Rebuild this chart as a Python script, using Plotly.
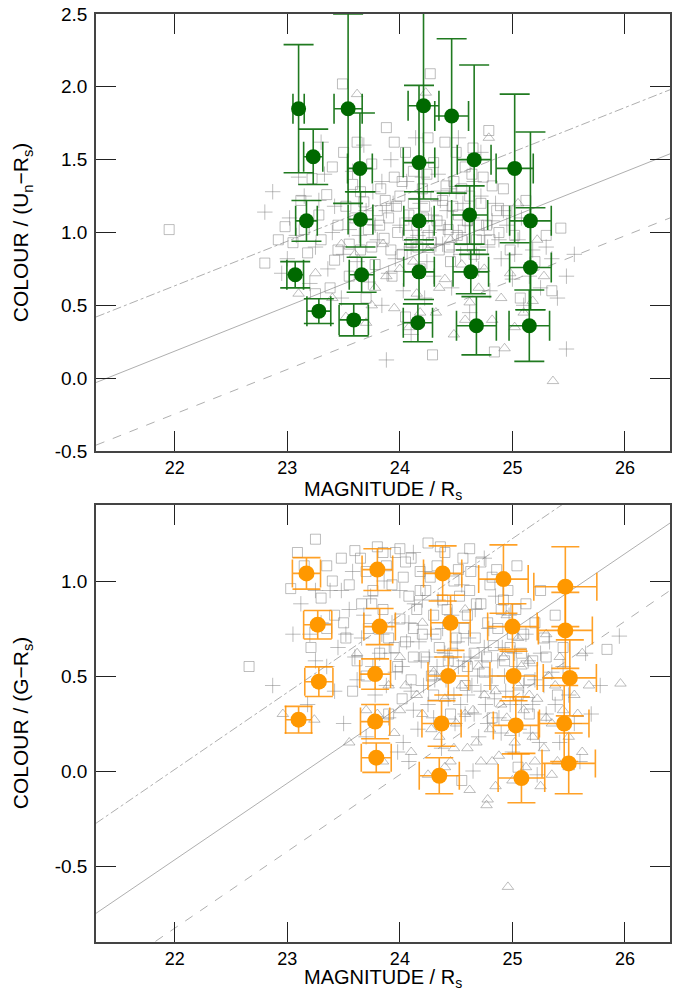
import plotly.graph_objects as go

# ---------------- data: top panel (U_n - R_s) ----------------
top_sq = [(21.95,1.02),(22.80,0.79),(22.98,1.04),(23.05,0.93),(23.12,1.22),(23.18,0.86),(23.22,1.37),(23.28,1.12),
          (23.30,0.95),(23.35,1.26),(23.40,1.45),(23.42,0.81),(23.45,1.05),(23.49,2.02),(23.50,1.55),(23.52,1.18),
          (23.55,0.92),(23.58,1.33),(23.62,1.62),(23.65,0.88),(23.68,1.21),(23.72,1.02),(23.75,1.47),(23.78,0.78),
          (23.80,1.15),(23.83,1.30),(23.86,0.96),(23.88,1.72),(23.90,1.10),(23.93,0.70),(23.95,1.38),(23.98,1.00),
          (24.00,1.25),(24.02,0.85),(24.05,1.55),(24.08,1.12),(24.10,0.93),(24.12,1.42),(24.15,1.05),(24.18,0.75),
          (24.20,1.30),(24.22,1.18),(24.25,0.98),(24.27,2.09),(24.29,0.16),(24.30,1.48),(24.33,1.08),(24.35,0.88),
          (24.38,1.22),(24.40,1.62),(24.43,1.02),(24.45,0.80),(24.48,1.35),(24.52,1.12),(24.55,0.95),(24.58,1.45),
          (24.62,1.25),(24.66,0.85),(24.70,1.05),(24.74,1.38),(24.79,1.70),(24.80,0.95),(24.84,0.18),(24.86,1.15),
          (24.92,1.30),(24.98,0.88),(25.07,0.55),(25.12,1.22),(25.30,0.98),(25.43,1.03),(23.38,0.62),(23.70,0.55),
          (24.05,0.42),(23.25,0.58),
          (23.60,1.10),(23.65,1.28),(23.75,0.90),(23.82,1.05),(23.87,1.22),(23.92,0.88),(23.97,1.18),(24.02,1.35),
          (24.07,0.98),(24.12,1.20),(24.16,0.90),(24.21,1.10),(24.24,1.40),(24.28,0.93),(24.32,1.25),(24.36,1.05),
          (24.41,1.32),(24.44,0.90),(24.47,1.18),(24.51,0.98),(24.55,1.30),(24.60,1.08),(24.64,1.40),(24.68,0.95),
          (24.72,1.20),(24.77,1.05),(24.82,1.32),(24.88,1.00),(24.95,1.15),(25.02,0.98),(25.20,0.80),(25.35,0.60),
          (23.55,0.70),(23.45,0.88),(23.15,1.02),(22.92,0.95),(24.50,1.55),(24.25,1.65),(23.95,1.62),(24.65,1.58)]
top_cr = [(22.80,1.14),(22.87,1.28),(22.95,0.72),(23.02,1.10),(23.08,0.98),(23.15,1.25),(23.20,0.65),(23.25,0.90),
          (23.33,1.40),(23.36,0.75),(23.42,1.18),(23.48,0.55),(23.55,1.02),(23.58,1.42),(23.62,0.80),(23.68,1.60),
          (23.72,0.66),(23.76,1.28),(23.80,0.95),(23.84,0.50),(23.88,1.15),(23.92,1.50),(23.96,0.82),(24.00,1.05),
          (24.03,0.60),(24.06,1.35),(24.10,0.90),(24.14,1.65),(24.18,1.20),(24.22,0.55),(24.26,1.00),(24.30,0.70),
          (24.34,1.40),(24.38,0.92),(24.42,1.15),(24.46,0.62),(24.50,1.28),(24.54,0.85),(24.58,1.05),(24.62,0.45),
          (24.66,1.35),(24.70,0.75),(24.75,0.98),(24.80,0.60),(24.85,1.20),(24.90,0.82),(24.95,1.05),(25.00,0.68),
          (25.05,0.95),(25.10,0.50),(25.18,0.88),(25.25,0.62),(25.35,0.82),(25.48,0.70),(25.48,0.20),(23.88,0.125),
          (24.52,1.65),(23.30,1.62),(24.10,0.30),(24.72,1.55),
          (23.50,0.85),(23.64,0.98),(23.70,1.15),(23.78,1.05),(23.84,1.35),(23.90,0.72),(23.94,1.20),(24.04,0.88),
          (24.08,1.10),(24.16,0.98),(24.20,1.38),(24.24,0.80),(24.28,1.12),(24.32,0.92),(24.36,1.22),(24.40,1.02),
          (24.44,1.30),(24.48,0.88),(24.52,1.00),(24.56,1.20),(24.60,0.92),(24.64,1.10),(24.68,0.85),(24.72,1.25),
          (24.78,0.90),(24.82,1.08),(24.88,0.95),(24.92,1.15),(25.02,0.85),(25.08,1.10),(25.15,0.70),(25.30,0.90),
          (25.40,0.55),(23.10,1.38),(23.00,0.82),(25.55,0.85),(23.40,1.00),(23.28,1.22)]
top_tr = [(23.25,0.72),(23.40,0.55),(23.52,0.42),(23.60,0.85),(23.70,0.38),(23.78,0.62),(23.85,0.92),(23.95,0.48),
          (24.00,0.75),(24.08,0.35),(24.15,0.58),(24.23,1.96),(24.25,0.88),(24.32,0.45),(24.40,0.68),(24.48,0.30),
          (24.55,0.78),(24.62,0.52),(24.70,0.62),(24.79,1.65),(24.82,0.40),(24.93,0.205),(24.98,0.72),(25.10,0.45),
          (25.18,0.53),(25.22,0.95),(25.36,-0.02),(23.10,0.58),(25.05,1.20),(23.62,1.95),
          (23.88,0.70),(24.12,0.80),(24.35,0.62),(24.58,0.40),(24.75,0.75),(24.90,0.55),(25.02,0.35),(25.28,0.70),
          (23.48,0.92),(24.45,0.95),(24.18,0.45),(23.75,0.50)]

green_x   = [23.10,23.23,23.54,23.645,23.65,24.21,24.17,24.46,24.66,25.02,23.17,24.17,24.62,25.16,
             23.07,23.28,23.66,23.59,24.17,24.16,24.63,24.68,25.16,25.15]
green_y   = [1.85,1.52,1.85,1.44,1.09,1.87,1.48,1.80,1.50,1.44,1.08,1.08,1.12,1.08,
             0.71,0.46,0.71,0.40,0.73,0.38,0.73,0.36,0.76,0.36]
green_eyp = [0.44,0.19,0.65,0.38,0.19,0.64,0.53,0.53,0.65,0.51,0.14,0.20,0.20,0.61,
             0.09,0.085,0.12,0.11,0.19,0.13,0.15,0.20,0.41,0.245]
green_eym = [0.44,0.19,0.65,0.16,0.19,0.64,0.53,0.53,0.65,0.51,0.14,0.20,0.20,0.61,
             0.09,0.085,0.12,0.11,0.19,0.13,0.15,0.20,0.29,0.245]
green_ex  = [0.05,0.085,0.125,0.11,0.11,0.137,0.14,0.15,0.15,0.165,0.096,0.135,0.16,0.185,
             0.074,0.106,0.11,0.13,0.136,0.13,0.158,0.177,0.185,0.18]

top_line_x = [21.3, 26.4]
top_solid = [-0.03, 1.54]
top_upper = [0.42, 1.98]
top_lower = [-0.46, 1.10]

# ---------------- data: bottom panel (G - R_s) ----------------
bot_sq = [(22.66,0.55),(23.03,0.96),(23.09,1.15),(23.21,0.65),(23.30,0.91),(23.35,1.08),(23.42,0.82),(23.48,1.12),
          (23.52,0.70),(23.55,0.98),(23.60,1.16),(23.62,0.58),(23.66,0.88),(23.70,1.05),(23.72,0.75),(23.76,0.95),
          (23.80,1.18),(23.82,0.62),(23.85,0.85),(23.88,1.08),(23.90,0.70),(23.93,0.98),(23.96,1.15),(23.98,0.55),
          (24.00,0.80),(24.03,1.02),(24.05,0.68),(24.08,0.92),(24.10,1.12),(24.12,0.60),(24.15,0.85),(24.18,1.05),
          (24.20,0.72),(24.23,0.95),(24.25,1.20),(24.28,0.50),(24.30,0.82),(24.33,1.08),(24.35,0.65),(24.38,0.90),
          (24.40,1.15),(24.43,0.58),(24.46,0.78),(24.48,1.00),(24.50,0.70),(24.53,0.92),(24.56,1.12),(24.58,0.45),
          (24.60,0.82),(24.63,1.05),(24.66,0.62),(24.68,0.88),(24.72,1.10),(24.75,0.52),(24.78,0.78),(24.80,0.98),
          (24.83,0.66),(24.86,1.06),(24.90,0.85),(24.93,0.58),(24.96,0.95),(25.00,0.72),(25.04,1.08),(25.08,0.62),
          (25.12,0.88),(25.15,0.48),(25.20,0.78),(25.25,0.95),(25.30,0.60),(25.38,0.82),(25.84,0.64),(23.58,0.42),
          (24.02,0.38),(24.45,0.30),(24.82,0.28),(25.15,0.30),(25.05,0.02),(24.55,-0.05),(23.90,0.30),(23.25,1.22),
          (23.40,1.00),(23.50,0.78),(23.65,1.12),(23.75,0.88),(23.85,1.15),(23.95,0.65),(24.05,1.10),(24.12,0.75),
          (24.18,0.95),(24.22,0.60),(24.27,1.02),(24.32,0.72),(24.36,1.18),(24.42,0.85),(24.47,0.62),(24.52,1.06),
          (24.57,0.75),(24.62,0.95),(24.67,0.70),(24.72,0.88),(24.77,0.60),(24.82,1.02),(24.87,0.75),(24.92,0.90),
          (24.98,0.65),(25.03,0.85),(25.10,0.72),(25.18,0.58),(25.28,0.70),(25.45,0.65),(23.70,0.50),(24.10,0.48),
          (24.60,0.55),(25.05,0.40),(23.35,0.75),(23.15,1.08),(24.00,1.17),(24.62,1.17),(24.30,0.40),(25.40,0.40)]
bot_cr = [(22.87,0.45),(23.05,0.72),(23.12,0.88),(23.18,0.35),(23.25,0.58),(23.30,0.78),(23.38,0.95),(23.42,0.42),
          (23.45,0.65),(23.50,0.25),(23.55,0.85),(23.58,1.05),(23.62,0.48),(23.66,0.70),(23.70,0.18),(23.74,0.92),
          (23.78,0.40),(23.82,0.62),(23.86,1.00),(23.90,0.28),(23.93,0.78),(23.96,0.52),(24.00,0.95),(24.03,0.15),
          (24.06,0.68),(24.10,0.42),(24.13,0.88),(24.16,0.22),(24.19,0.58),(24.22,1.05),(24.25,0.35),(24.28,0.72),
          (24.31,0.48),(24.34,0.90),(24.37,0.12),(24.40,0.62),(24.43,0.38),(24.46,0.82),(24.49,0.25),(24.52,0.55),
          (24.55,0.98),(24.58,0.30),(24.61,0.70),(24.64,0.45),(24.67,0.85),(24.70,0.18),(24.73,0.58),(24.76,0.35),
          (24.79,0.75),(24.82,0.50),(24.85,0.92),(24.88,0.28),(24.91,0.65),(24.94,0.42),(24.97,0.82),(25.00,0.10),
          (25.04,0.55),(25.08,0.35),(25.12,0.72),(25.16,0.20),(25.20,0.48),(25.25,0.62),(25.30,0.30),(25.35,0.52),
          (25.42,0.15),(25.50,0.40),(25.60,0.05),(25.78,0.45),(25.95,0.71),(25.65,0.62),(24.08,0.05),(23.98,0.10),
          (24.65,0.00),(25.22,-0.02),(24.12,1.15),(24.75,1.12),(23.48,0.95),(25.70,0.30),
          (23.35,0.55),(23.52,0.72),(23.60,0.60),(23.68,0.82),(23.76,0.55),(23.84,0.72),(23.88,0.45),(23.92,0.62),
          (24.02,0.55),(24.08,0.78),(24.12,0.32),(24.17,0.68),(24.21,0.45),(24.26,0.60),(24.30,0.28),(24.33,0.55),
          (24.38,0.75),(24.41,0.48),(24.44,0.60),(24.48,0.40),(24.51,0.68),(24.54,0.35),(24.57,0.58),(24.60,0.40),
          (24.63,0.60),(24.66,0.30),(24.69,0.50),(24.72,0.42),(24.75,0.65),(24.78,0.25),(24.81,0.45),(24.84,0.38),
          (24.87,0.58),(24.90,0.20),(24.93,0.50),(24.98,0.35),(25.02,0.62),(25.06,0.22),(25.10,0.45),(25.14,0.58),
          (25.18,0.35),(25.24,0.15),(25.28,0.45),(25.33,0.68),(25.38,0.35),(25.45,0.55),(25.55,0.25),(23.25,0.95),
          (23.20,0.72),(24.20,0.90)]
bot_tr = [(22.96,0.30),(23.24,0.27),(23.55,0.15),(23.70,0.32),(23.85,0.05),(23.95,0.20),(24.05,0.45),(24.10,0.10),
          (24.20,0.30),(24.25,-0.02),(24.30,0.52),(24.35,0.18),(24.40,0.38),(24.45,0.05),(24.50,0.25),(24.55,0.45),
          (24.60,0.12),(24.62,-0.10),(24.65,0.32),(24.70,0.55),(24.72,0.05),(24.77,-0.18),(24.78,-0.15),(24.80,0.22),
          (24.85,0.42),(24.88,0.08),(24.92,0.60),(24.95,0.28),(24.96,-0.61),(25.00,-0.05),(25.02,0.15),(25.05,0.45),
          (25.10,0.32),(25.12,0.02),(25.15,0.58),(25.18,0.18),(25.22,0.38),(25.25,-0.08),(25.28,0.12),(25.32,0.50),
          (25.35,0.25),(25.40,0.05),(25.45,0.32),(25.50,0.18),(25.55,0.40),(25.62,0.10),(25.68,0.45),(25.96,0.46),
          (24.20,0.78),(24.58,0.85),(23.62,0.62),(24.95,0.82),(25.30,0.72),(24.00,0.60),(25.62,0.62),
          (23.80,0.30),(23.90,0.45),(24.00,0.32),(24.15,0.40),(24.28,0.22),(24.38,0.50),(24.48,0.12),(24.58,0.30),
          (24.68,0.15),(24.75,0.40),(24.82,0.05),(24.90,0.35),(24.98,0.20),(25.08,0.55),(25.15,0.40),(25.20,0.05),
          (25.30,0.28),(25.38,0.45),(25.42,0.60),(25.50,0.02),(25.58,0.30),(24.40,0.02),(24.85,-0.08),(25.35,-0.02),
          (25.05,0.70)]

orange_x  = [23.17,23.80,24.38,24.92,25.47,23.27,23.82,24.45,25.00,25.47,23.28,23.78,24.43,25.01,25.51,
             23.10,23.78,24.37,25.03,25.46,23.79,24.35,25.08,25.50]
orange_y  = [1.04,1.06,1.04,1.01,0.97,0.77,0.76,0.78,0.76,0.74,0.47,0.51,0.50,0.50,0.49,
             0.27,0.26,0.25,0.24,0.25,0.07,-0.025,-0.037,0.04]
orange_ey = [0.083,0.11,0.145,0.18,0.21,0.075,0.095,0.145,0.12,0.20,0.078,0.08,0.10,0.13,0.20,
             0.07,0.09,0.12,0.15,0.20,0.077,0.095,0.13,0.16]
orange_ex = [0.125,0.136,0.17,0.22,0.28,0.125,0.14,0.175,0.22,0.24,0.125,0.137,0.18,0.21,0.236,
             0.115,0.13,0.174,0.20,0.22,0.133,0.178,0.207,0.237]

bot_line_x = [21.3, 26.4]
bot_solid = [-0.749, 1.305]
bot_upper = [-0.275, 1.79]
bot_lower = [-1.11, 0.95]

x_ticks = [22, 23, 24, 25, 26]
top_yticks = [-0.5, 0.0, 0.5, 1.0, 1.5, 2.0, 2.5]
top_ytext = ["-0.5", "0.0", "0.5", "1.0", "1.5", "2.0", "2.5"]
bot_yticks = [-0.5, 0.0, 0.5, 1.0]
bot_ytext = ["-0.5", "0.0", "0.5", "1.0"]

x_title = "MAGNITUDE / R<sub>s</sub>"
top_ytitle = "COLOUR / (U<sub>n</sub>\u2212R<sub>s</sub>)"
bot_ytitle = "COLOUR / (G\u2212R<sub>s</sub>)"

GRAY = "rgba(125,125,125,0.5)"
LINEGRAY = "rgb(175,175,175)"
FONT = "Liberation Sans, Arial, Helvetica, sans-serif"

fig = go.Figure()

def add_background(pts_sq, pts_cr, pts_tr, xa, ya):
    for pts, sym, sz in [(pts_sq, "square-open", 10), (pts_cr, "cross-thin-open", 11), (pts_tr, "triangle-up-open", 10)]:
        fig.add_trace(go.Scatter(
            x=[p[0] for p in pts], y=[p[1] for p in pts], mode="markers",
            marker=dict(symbol=sym, size=sz, color=GRAY, line=dict(color=GRAY, width=1)),
            xaxis=xa, yaxis=ya, showlegend=False, hoverinfo="skip"))

def add_lines(lx, solid, upper, lower, xa, ya):
    for ys, dash in [(solid, "solid"), (upper, "dashdot"), (lower, "dash")]:
        fig.add_trace(go.Scatter(x=lx, y=ys, mode="lines",
                                 line=dict(color=LINEGRAY, width=1, dash=dash),
                                 xaxis=xa, yaxis=ya, showlegend=False, hoverinfo="skip"))

add_lines(top_line_x, top_solid, top_upper, top_lower, "x", "y")
add_background(top_sq, top_cr, top_tr, "x", "y")
fig.add_trace(go.Scatter(
    x=green_x, y=green_y, mode="markers",
    marker=dict(symbol="circle", size=15, color="rgb(0,105,0)"),
    error_y=dict(type="data", symmetric=False, array=green_eyp, arrayminus=green_eym,
                 color="rgba(20,115,20,0.95)", thickness=1.6, width=15),
    error_x=dict(type="data", array=green_ex, color="rgba(20,115,20,0.95)", thickness=1.6, width=15),
    xaxis="x", yaxis="y", showlegend=False))

add_lines(bot_line_x, bot_solid, bot_upper, bot_lower, "x2", "y2")
add_background(bot_sq, bot_cr, bot_tr, "x2", "y2")
fig.add_trace(go.Scatter(
    x=orange_x, y=orange_y, mode="markers",
    marker=dict(symbol="circle", size=16, color="rgb(255,152,0)"),
    error_y=dict(type="data", array=orange_ey, color="rgba(255,145,0,0.85)", thickness=1.6, width=14),
    error_x=dict(type="data", array=orange_ex, color="rgba(255,145,0,0.85)", thickness=1.6, width=14),
    xaxis="x2", yaxis="y2", showlegend=False))

axis_common = dict(showgrid=False, zeroline=False, showline=True, linecolor="#444", linewidth=1.5,
                   mirror="ticks", ticks="inside", ticklen=20, tickwidth=1.3, tickcolor="#222")
xtickfont = dict(family=FONT, size=18, color="black")
ytickfont = dict(family=FONT, size=19, color="black")

fig.update_layout(
    width=676, height=992,
    margin=dict(l=96, r=4, t=14, b=50),
    paper_bgcolor="white", plot_bgcolor="white",
    font=dict(family=FONT, size=19, color="black"),
    xaxis=dict(domain=[0, 1], anchor="y", range=[21.3, 26.4], tickvals=x_ticks, tickfont=xtickfont, **axis_common),
    yaxis=dict(domain=[0.5291, 1], anchor="x", range=[-0.5, 2.5], tickvals=top_yticks, ticktext=top_ytext,
               ticklabelstandoff=3, tickfont=ytickfont, **axis_common),
    xaxis2=dict(domain=[0, 1], anchor="y2", range=[21.3, 26.4], tickvals=x_ticks, tickfont=xtickfont, **axis_common),
    yaxis2=dict(domain=[0, 0.4709], anchor="x2", range=[-0.9, 1.4], tickvals=bot_yticks, ticktext=bot_ytext,
                ticklabelstandoff=3, tickfont=ytickfont, **axis_common),
)

# axis titles placed as annotations (paper coordinates)
xt_font = dict(family=FONT, size=20, color="black")
yt_font = dict(family=FONT, size=21, color="black")
fig.add_annotation(text=x_title, xref="paper", yref="paper", x=0.5, y=0.4720, xanchor="center", yanchor="bottom",
                   showarrow=False, font=xt_font, borderpad=0)
fig.add_annotation(text=x_title, xref="paper", yref="paper", x=0.5, y=-0.0539, xanchor="center", yanchor="bottom",
                   showarrow=False, font=xt_font, borderpad=0)
fig.add_annotation(text=top_ytitle, xref="paper", yref="paper", x=-0.1276, y=0.7646, xanchor="center", yanchor="middle",
                   textangle=-90, showarrow=False, font=yt_font)
fig.add_annotation(text=bot_ytitle, xref="paper", yref="paper", x=-0.1276, y=0.2355, xanchor="center", yanchor="middle",
                   textangle=-90, showarrow=False, font=yt_font)

fig.write_html("out.html")
